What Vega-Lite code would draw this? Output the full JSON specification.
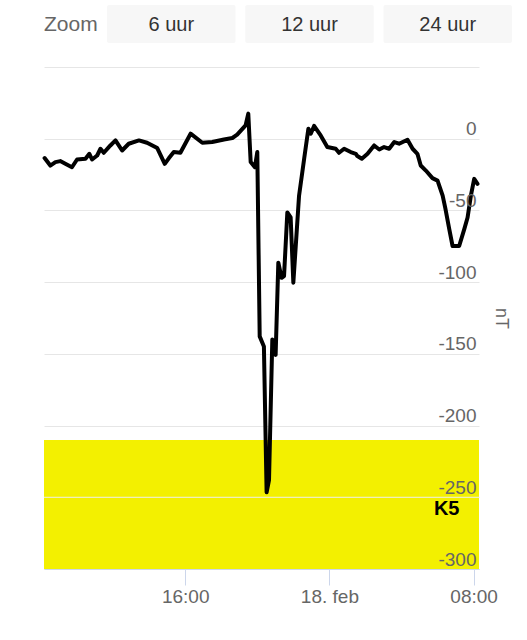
{
  "$schema": "https://vega.github.io/schema/vega-lite/v6.json",
  "padding": {"left": 42, "top": 5, "right": 20, "bottom": 0},
  "background": "white",
  "spacing": 24,
  "config": {"view": {"stroke": null}, "font": "Liberation Sans"},
  "vconcat": [
    {
      "width": 468,
      "height": 38,
      "layer": [
        {
          "data": {"values": [{"button": "6 uur"}, {"button": "12 uur"}, {"button": "24 uur"}]},
          "mark": {"type": "rect", "fill": "#f7f7f7", "cornerRadius": 2},
          "encoding": {
            "x": {"field": "button", "type": "nominal", "sort": null, "axis": null,
                  "scale": {"type": "band", "range": [63, 468], "paddingInner": 0.07, "paddingOuter": 0}}
          }
        },
        {
          "data": {"values": [{"button": "6 uur"}, {"button": "12 uur"}, {"button": "24 uur"}]},
          "mark": {"type": "text", "fontSize": 20, "color": "#333333", "baseline": "middle", "dy": 1},
          "encoding": {
            "x": {"field": "button", "type": "nominal", "sort": null, "axis": null,
                  "scale": {"type": "band", "range": [63, 468], "paddingInner": 0.07, "paddingOuter": 0}},
            "text": {"field": "button"}
          }
        },
        {
          "data": {"values": [{"label": "Zoom"}]},
          "mark": {"type": "text", "fontSize": 21, "color": "#666666", "align": "left", "baseline": "middle", "dy": 1},
          "encoding": {"x": {"value": 0}, "text": {"field": "label"}}
        }
      ]
    },
    {
      "width": 435,
      "height": 502,
      "layer": [
        {
          "data": {"values": [{"level": "K5", "from": -210, "to": -300}]},
          "mark": {"type": "rect", "fill": "#f3f000"},
          "encoding": {
            "y": {"field": "from", "type": "quantitative",
                  "scale": {"domain": [-300, 50], "nice": false, "zero": false},
                  "axis": {"orient": "left", "grid": true, "gridColor": "#e6e6e6", "labels": false, "ticks": false,
                           "domain": false, "title": null, "values": [-300, -250, -200, -150, -100, -50, 0, 50], "zindex": 0}},
            "y2": {"field": "to"}
          }
        },
        {
          "data": {"values": [{}]},
          "mark": {"type": "rule", "color": "#eeeeee", "strokeWidth": 1},
          "encoding": {"y": {"datum": -250, "type": "quantitative", "axis": null}}
        },
        {
          "data": {"values": [
            {"time": "2023-02-17T08:12:00", "nT": -13.5},
            {"time": "2023-02-17T08:31:00", "nT": -18.7},
            {"time": "2023-02-17T08:48:00", "nT": -16.3},
            {"time": "2023-02-17T09:04:00", "nT": -15.6},
            {"time": "2023-02-17T09:21:00", "nT": -17.5},
            {"time": "2023-02-17T09:43:00", "nT": -19.9},
            {"time": "2023-02-17T10:00:00", "nT": -14.5},
            {"time": "2023-02-17T10:28:00", "nT": -14},
            {"time": "2023-02-17T10:41:00", "nT": -10.5},
            {"time": "2023-02-17T10:50:00", "nT": -14.5},
            {"time": "2023-02-17T11:07:00", "nT": -11.7},
            {"time": "2023-02-17T11:18:00", "nT": -7},
            {"time": "2023-02-17T11:29:00", "nT": -9.8},
            {"time": "2023-02-17T11:51:00", "nT": -4.7},
            {"time": "2023-02-17T12:08:00", "nT": -1.2},
            {"time": "2023-02-17T12:30:00", "nT": -8.2},
            {"time": "2023-02-17T12:52:00", "nT": -3.5},
            {"time": "2023-02-17T13:26:00", "nT": -1.2},
            {"time": "2023-02-17T13:53:00", "nT": -2.8},
            {"time": "2023-02-17T14:27:00", "nT": -6.5},
            {"time": "2023-02-17T14:52:00", "nT": -17.5},
            {"time": "2023-02-17T15:06:00", "nT": -13.5},
            {"time": "2023-02-17T15:22:00", "nT": -9.3},
            {"time": "2023-02-17T15:44:00", "nT": -9.8},
            {"time": "2023-02-17T16:18:00", "nT": 3.5},
            {"time": "2023-02-17T16:57:00", "nT": -2.8},
            {"time": "2023-02-17T17:30:00", "nT": -2.3},
            {"time": "2023-02-17T18:09:00", "nT": -0.5},
            {"time": "2023-02-17T18:37:00", "nT": 0.5},
            {"time": "2023-02-17T18:53:00", "nT": 2.8},
            {"time": "2023-02-17T19:21:00", "nT": 9.3},
            {"time": "2023-02-17T19:30:00", "nT": 17.5},
            {"time": "2023-02-17T19:38:00", "nT": -16.3},
            {"time": "2023-02-17T19:52:00", "nT": -19.9},
            {"time": "2023-02-17T20:00:00", "nT": -9.3},
            {"time": "2023-02-17T20:08:00", "nT": -137.8},
            {"time": "2023-02-17T20:22:00", "nT": -144.8},
            {"time": "2023-02-17T20:31:00", "nT": -246.5},
            {"time": "2023-02-17T20:39:00", "nT": -238},
            {"time": "2023-02-17T20:50:00", "nT": -140},
            {"time": "2023-02-17T21:01:00", "nT": -150.7},
            {"time": "2023-02-17T21:10:00", "nT": -86.4},
            {"time": "2023-02-17T21:21:00", "nT": -97},
            {"time": "2023-02-17T21:29:00", "nT": -95.8},
            {"time": "2023-02-17T21:40:00", "nT": -51.4},
            {"time": "2023-02-17T21:51:00", "nT": -54.9},
            {"time": "2023-02-17T22:00:00", "nT": -100.4},
            {"time": "2023-02-17T22:19:00", "nT": -39.7},
            {"time": "2023-02-17T22:36:00", "nT": -14},
            {"time": "2023-02-17T22:50:00", "nT": 7},
            {"time": "2023-02-17T22:58:00", "nT": 3.5},
            {"time": "2023-02-17T23:09:00", "nT": 8.9},
            {"time": "2023-02-17T23:31:00", "nT": 2.3},
            {"time": "2023-02-17T23:53:00", "nT": -5.8},
            {"time": "2023-02-18T00:21:00", "nT": -7},
            {"time": "2023-02-18T00:32:00", "nT": -9.8},
            {"time": "2023-02-18T00:49:00", "nT": -7},
            {"time": "2023-02-18T01:11:00", "nT": -9.3},
            {"time": "2023-02-18T01:28:00", "nT": -10.5},
            {"time": "2023-02-18T01:33:00", "nT": -12.1},
            {"time": "2023-02-18T01:48:00", "nT": -14},
            {"time": "2023-02-18T02:07:00", "nT": -10.5},
            {"time": "2023-02-18T02:29:00", "nT": -4.7},
            {"time": "2023-02-18T02:46:00", "nT": -7.5},
            {"time": "2023-02-18T03:02:00", "nT": -5.8},
            {"time": "2023-02-18T03:19:00", "nT": -7},
            {"time": "2023-02-18T03:36:00", "nT": -2.3},
            {"time": "2023-02-18T03:52:00", "nT": -3.5},
            {"time": "2023-02-18T04:20:00", "nT": -0.7},
            {"time": "2023-02-18T04:37:00", "nT": -7},
            {"time": "2023-02-18T04:53:00", "nT": -10.5},
            {"time": "2023-02-18T05:04:00", "nT": -18.7},
            {"time": "2023-02-18T05:21:00", "nT": -22.2},
            {"time": "2023-02-18T05:43:00", "nT": -27.5},
            {"time": "2023-02-18T06:00:00", "nT": -29.2},
            {"time": "2023-02-18T06:17:00", "nT": -39.7},
            {"time": "2023-02-18T06:26:00", "nT": -48.6},
            {"time": "2023-02-18T06:39:00", "nT": -63},
            {"time": "2023-02-18T06:50:00", "nT": -74.8},
            {"time": "2023-02-18T07:12:00", "nT": -74.8},
            {"time": "2023-02-18T07:29:00", "nT": -63},
            {"time": "2023-02-18T07:40:00", "nT": -54.9},
            {"time": "2023-02-18T07:51:00", "nT": -39.7},
            {"time": "2023-02-18T08:02:00", "nT": -28},
            {"time": "2023-02-18T08:13:00", "nT": -31.5}
          ]},
          "mark": {"type": "line", "color": "#000000", "strokeWidth": 4, "strokeJoin": "round", "strokeCap": "round"},
          "encoding": {
            "x": {"field": "time", "type": "temporal",
                  "scale": {"domain": [
                    {"year": 2023, "month": "feb", "date": 17, "hours": 8, "minutes": 10},
                    {"year": 2023, "month": "feb", "date": 18, "hours": 8, "minutes": 18}]},
                  "axis": {"orient": "bottom", "title": null, "grid": false,
                           "values": [
                             {"year": 2023, "month": "feb", "date": 17, "hours": 16},
                             {"year": 2023, "month": "feb", "date": 18, "hours": 0},
                             {"year": 2023, "month": "feb", "date": 18, "hours": 8}],
                           "labelExpr": "hours(datum.value) == 0 ? date(datum.value) + '. feb' : timeFormat(datum.value, '%H:%M')",
                           "tickSize": 16, "tickColor": "#ccd6eb", "domainColor": "#ccd6eb",
                           "labelFontSize": 19, "labelColor": "#666666", "labelPadding": 2,
                           "labelFlush": false, "labelOverlap": false, "zindex": 1}},
            "y": {"field": "nT", "type": "quantitative",
                  "scale": {"domain": [-300, 50], "nice": false, "zero": false},
                  "axis": {"orient": "right", "grid": false, "ticks": false, "tickSize": 0, "domain": false,
                           "values": [-300, -250, -200, -150, -100, -50, 0],
                           "labelExpr": "'' + datum.value",
                           "labelAlign": "right", "labelBaseline": "bottom", "labelPadding": -3,
                           "labelFontSize": 19, "labelColor": "#666666",
                           "title": "nT", "titleFontSize": 18, "titleColor": "#666666", "titleFontWeight": "normal",
                           "titleX": 12, "zindex": 1}}
          }
        },
        {
          "data": {"values": [{"level": "K5"}]},
          "mark": {"type": "text", "fontSize": 20, "fontWeight": "bold", "color": "#000000", "align": "right", "baseline": "middle"},
          "encoding": {
            "x": {"datum": {"year": 2023, "month": "feb", "date": 18, "hours": 7, "minutes": 13}, "type": "temporal"},
            "y": {"datum": -258, "type": "quantitative", "axis": null},
            "text": {"field": "level"}
          }
        }
      ],
      "resolve": {"axis": {"y": "independent"}}
    }
  ]
}
